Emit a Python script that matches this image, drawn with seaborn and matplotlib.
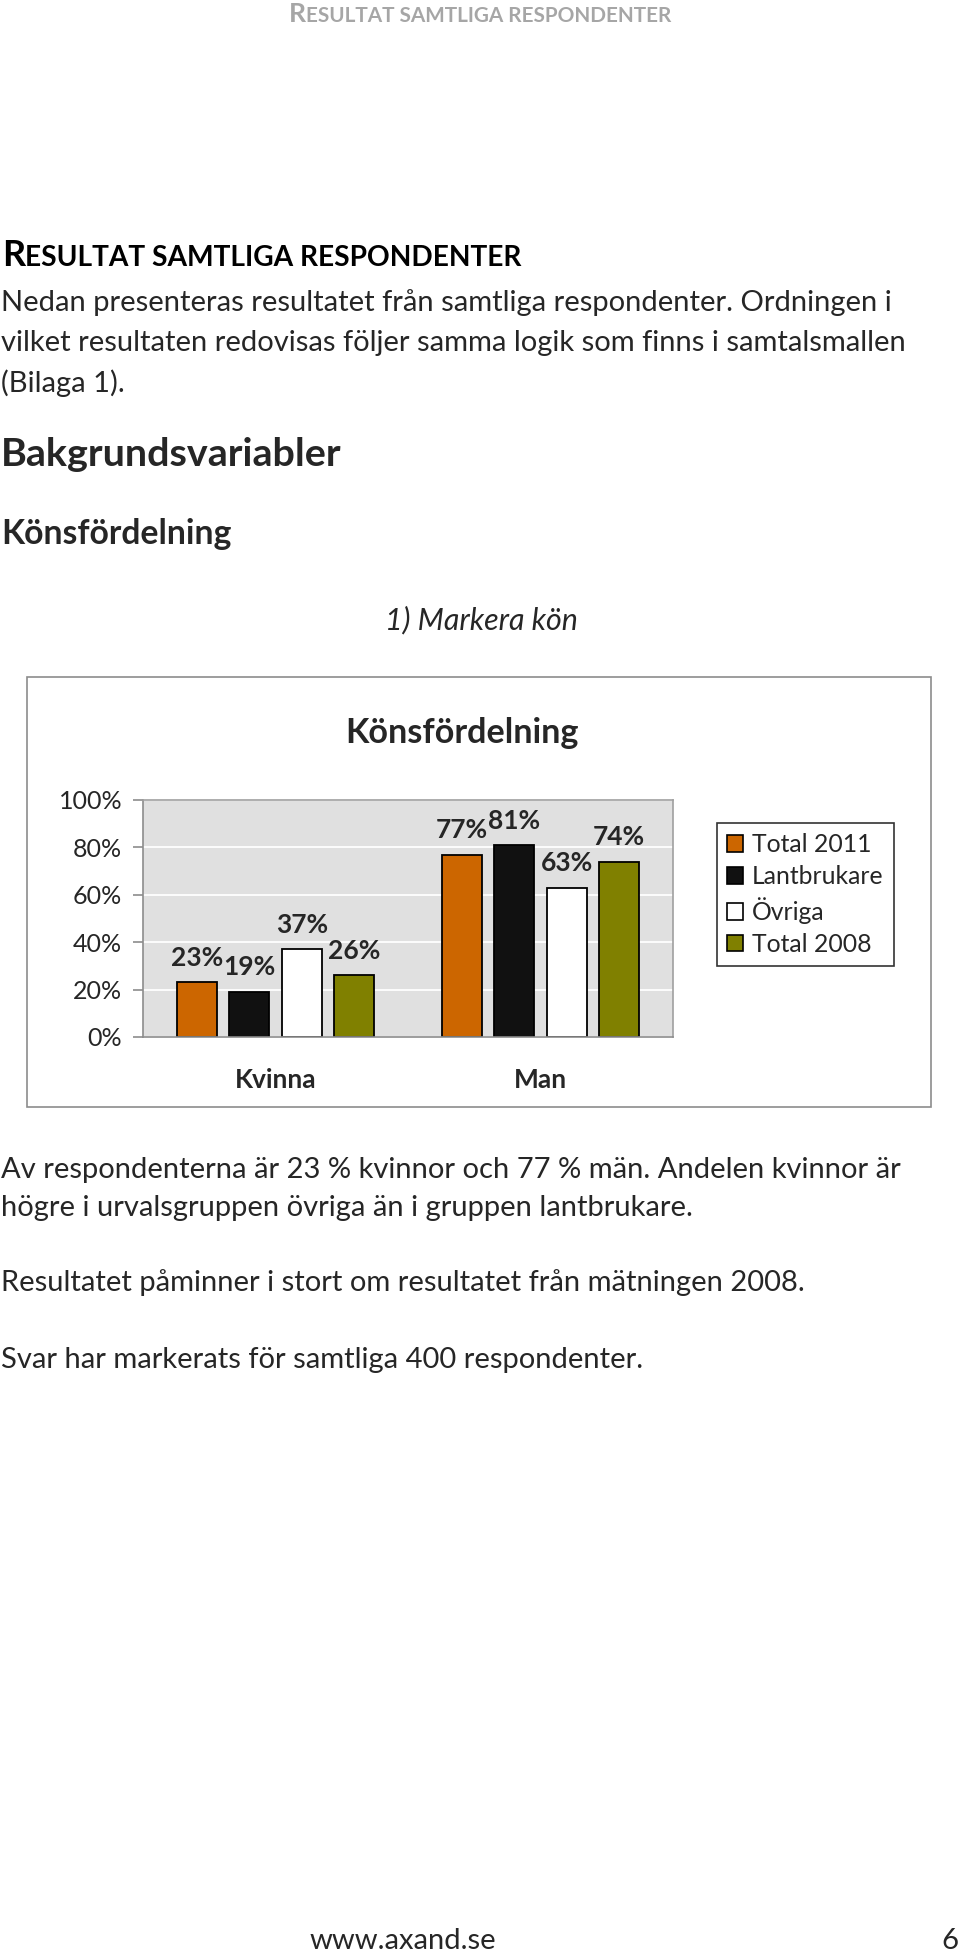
import numpy as np
import pandas as pd

import matplotlib.pyplot as plt
from matplotlib.patches import Rectangle, Patch
import seaborn as sns

W, H = 960, 1955

categories = ["Kvinna", "Man"]
series = ["Total 2011", "Lantbrukare", "Övriga", "Total 2008"]
total_2011 = [23, 77]
lantbrukare = [19, 81]
ovriga = [37, 63]
total_2008 = [26, 74]
colors = ["#CC6600", "#111111", "#FFFFFF", "#808000"]
yticks = [0, 20, 40, 60, 80, 100]

intro = [
    "Nedan presenteras resultatet från samtliga respondenter. Ordningen i",
    "vilket resultaten redovisas följer samma logik som finns i samtalsmallen",
    "(Bilaga 1).",
]
outro = [
    ("Av respondenterna är 23 % kvinnor och 77 % män. Andelen kvinnor är", 1170),
    ("högre i urvalsgruppen övriga än i gruppen lantbrukare.", 1208),
    ("Resultatet påminner i stort om resultatet från mätningen 2008.", 1283),
    ("Svar har markerats för samtliga 400 respondenter.", 1360),
]

sns.set_style("white")
plt.rcParams['font.family'] = ['Lato', 'DejaVu Sans']

fig = plt.figure(figsize=(W / 100, H / 100), dpi=100)
fig.patch.set_facecolor("white")
renderer = fig.canvas.get_renderer()


def fy(py):
    return 1 - py / H


def fx(px):
    return px / W


def width_of(t):
    return t.get_window_extent(renderer=renderer).width


def fit_size(s, target, **kw):
    t = fig.text(0, 0, s, fontsize=10, **kw)
    w = width_of(t)
    t.remove()
    return 10 * target / w


def smallcaps(x, y, s, size, color, ha="left"):
    # first letter large, rest at smaller size (word-style small caps)
    big = fig.text(fx(x), fy(y), s[0], fontsize=size, color=color,
                   fontweight="bold", va="baseline")
    rest = fig.text(0, fy(y), s[1:], fontsize=size * 0.78, color=color,
                    fontweight="bold", va="baseline")
    wb = width_of(big)
    wr = width_of(rest)
    if ha == "center":
        x0 = x - (wb + wr) / 2
        big.set_x(fx(x0))
    else:
        x0 = x
    rest.set_x(fx(x0 + wb))
    return wb + wr


# page header (gray) and section heading
t = fig.text(0, 0, "R", fontsize=10, fontweight="bold")
t2 = fig.text(0, 0, "ESULTAT SAMTLIGA RESPONDENTER", fontsize=7.8, fontweight="bold")
base_w = width_of(t) + width_of(t2)
t.remove()
t2.remove()
smallcaps(480, 22, "RESULTAT SAMTLIGA RESPONDENTER", 10 * 386 / base_w, "#A6A6A6", ha="center")
smallcaps(2, 266, "RESULTAT SAMTLIGA RESPONDENTER", 10 * 522 / base_w, "black")

body_size = fit_size(intro[1], 906)
for i, line in enumerate(intro):
    fig.text(fx(1), fy(303 + 40 * i), line, fontsize=body_size, va="center")

fig.text(fx(1), fy(455), "Bakgrundsvariabler", fontweight="bold", va="center",
         fontsize=fit_size("Bakgrundsvariabler", 342, fontweight="bold"))
fig.text(fx(1), fy(534), "Könsfördelning", fontweight="bold", va="center",
         fontsize=fit_size("Könsfördelning", 232, fontweight="bold"))
fig.text(fx(481), fy(620), "1) Markera kön", style="italic", ha="center", va="center",
         fontsize=fit_size("1) Markera kön", 193, style="italic"))

for line, y in outro:
    fig.text(fx(1), fy(y), line, fontsize=body_size, va="center")

fig.text(fx(403), fy(1941), "www.axand.se", fontsize=body_size, ha="center", va="center")
fig.text(fx(958), fy(1941), "6", fontsize=body_size, ha="right", va="center")

# chart frame
fig.patches.append(Rectangle((fx(27), fy(1107)), fx(931) - fx(27), fy(677) - fy(1107),
                             transform=fig.transFigure, fill=False,
                             edgecolor="#8C8C8C", linewidth=1.2))
fig.text(fx(462), fy(733), "Könsfördelning", fontweight="bold", ha="center", va="center",
         fontsize=fit_size("Könsfördelning", 234, fontweight="bold"))

rows = []
for name, vals in zip(series, [total_2011, lantbrukare, ovriga, total_2008]):
    for cat, v in zip(categories, vals):
        rows.append({"kon": cat, "grupp": name, "andel": v})
df = pd.DataFrame(rows)

ax = fig.add_axes([fx(143), fy(1037), fx(673) - fx(143), fy(800) - fy(1037)])
sns.barplot(data=df, x="kon", y="andel", hue="grupp", hue_order=series,
            palette=colors, width=0.79, gap=0.24, edgecolor="black",
            linewidth=1.3, saturation=1, legend=False, ax=ax)

ax.set_facecolor("#E0E0E0")
ax.set_ylim(0, 100)
ax.set_xlim(-0.5, 1.5)
ax.set_yticks(yticks)
ax.set_yticklabels([f"{v}%" for v in yticks], fontsize=18)
ax.yaxis.grid(True, color="white", linewidth=1.3)
ax.set_axisbelow(True)
ax.set_xlabel("")
ax.set_ylabel("")
ax.set_xticks([0, 1])
ax.set_xticklabels(categories, fontsize=19, fontweight="bold")
ax.tick_params(axis="x", length=0, pad=22)
ax.set_xticks([-0.5, 0.5, 1.5], minor=True)
ax.tick_params(axis="x", which="minor", length=9, color="#8C8C8C", width=1.2)
ax.tick_params(axis="y", length=7, color="#8C8C8C", width=1.2, pad=8,
               direction="out", left=True)
for side in ["left", "bottom"]:
    ax.spines[side].set_color("#8C8C8C")
    ax.spines[side].set_linewidth(1.2)
for side in ["top", "right"]:
    ax.spines[side].set_color("#A0A0A0")
    ax.spines[side].set_linewidth(1.2)

for cont in ax.containers:
    ax.bar_label(cont, labels=[f"{v:.0f}%" for v in cont.datavalues],
                 padding=9, fontsize=19, fontweight="bold")

handles = [Patch(facecolor=c, edgecolor="black", linewidth=1.2) for c in colors]
leg = fig.legend(handles, series, loc="upper left",
                 bbox_to_anchor=(fx(717), fy(823)), bbox_transform=fig.transFigure,
                 frameon=True, fancybox=False, edgecolor="black", fontsize=17.8,
                 handlelength=0.65, handleheight=0.65, handletextpad=0.35,
                 labelspacing=0.36, borderpad=0.42, borderaxespad=0)
leg.get_frame().set_linewidth(1.2)

fig.savefig("out.png", dpi=100)
